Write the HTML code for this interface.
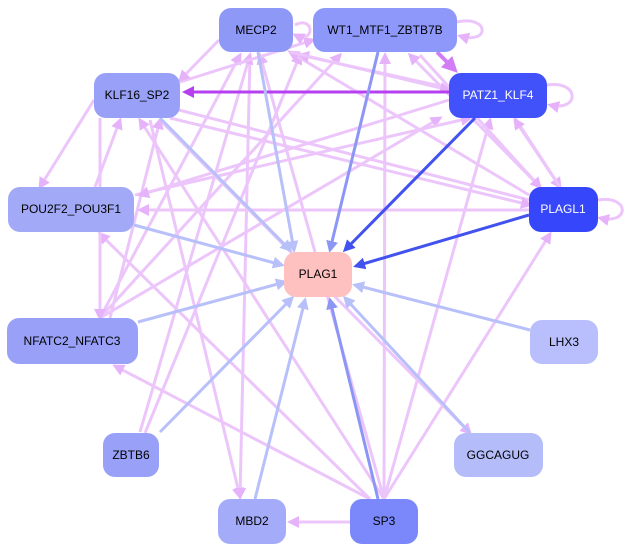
<!DOCTYPE html>
<html><head><style>
body{margin:0;background:#fff;width:630px;height:551px;overflow:hidden}
svg{display:block}
text{font-family:"Liberation Sans",sans-serif;font-size:12px;text-anchor:middle;dominant-baseline:central}
</style></head><body>
<svg width="630" height="551" viewBox="0 0 630 551">
<defs>
<marker id="ap" markerWidth="4" markerHeight="4" refX="3" refY="2" orient="auto" markerUnits="strokeWidth"><path d="M0,0L4,2L0,4z" fill="#e6b3fa"/></marker>
<marker id="ad" markerWidth="4" markerHeight="4" refX="3" refY="2" orient="auto" markerUnits="strokeWidth"><path d="M0,0L4,2L0,4z" fill="#d27cf5"/></marker>
<marker id="am" markerWidth="4" markerHeight="4" refX="3" refY="2" orient="auto" markerUnits="strokeWidth"><path d="M0,0L4,2L0,4z" fill="#b63ff0"/></marker>
<marker id="al" markerWidth="4" markerHeight="4" refX="3" refY="2" orient="auto" markerUnits="strokeWidth"><path d="M0,0L4,2L0,4z" fill="#b8c0fa"/></marker>
<marker id="ab" markerWidth="4" markerHeight="4" refX="3" refY="2" orient="auto" markerUnits="strokeWidth"><path d="M0,0L4,2L0,4z" fill="#8c96f5"/></marker>
<marker id="as" markerWidth="4" markerHeight="4" refX="3" refY="2" orient="auto" markerUnits="strokeWidth"><path d="M0,0L4,2L0,4z" fill="#4252ee"/></marker>
</defs>
<g fill="none" stroke-width="3" stroke="#ecc6fb" marker-end="url(#ap)">
<path d="M384,499L140,120"/>
<path d="M384,499L260,55"/>
<path d="M384,499L385,55"/>
<path d="M384,499L490,120"/>
<path d="M384,499L550,234"/>
<path d="M370,499L115,366"/>
<path d="M350,522L290,522"/>
<path d="M370,499L100,234"/>
<path d="M150,120L240,497"/>
<path d="M250,55L240,497"/>
<path d="M160,120L470,433"/>
<path d="M140,432L250,55"/>
<path d="M145,433L300,55"/>
<path d="M100,318L240,55"/>
<path d="M100,318L340,55"/>
<path d="M100,318L440,118"/>
<path d="M110,318L160,120"/>
<path d="M95,187L120,120"/>
<path d="M135,195L470,118"/>
<path d="M529,200L140,100"/>
<path d="M529,210L140,210"/>
<path d="M540,187L410,55"/>
<path d="M529,195L290,52"/>
<path d="M420,55L540,187"/>
<path d="M515,118L560,187"/>
<path d="M560,187L515,120"/>
<path d="M449,88L300,55"/>
<path d="M290,52L449,90"/>
<path d="M180,82L313,40"/>
<path d="M219,40L180,80"/>
<path d="M100,118L100,318"/>
<path d="M94,100L40,187"/>
<path d="M170,118L530,205"/>
<path d="M449,100L140,195"/>
<path d="M295,25C315,15 315,45 295,35"/>
<path d="M457,22C490,15 490,45 460,36"/>
<path d="M547,85C580,80 580,112 550,105"/>
<path d="M598,200C630,195 630,225 600,218"/>
</g>
<path d="M449,92L185,92" stroke="#b63ff0" stroke-width="3" marker-end="url(#am)"/>
<path d="M437,52L455,70" stroke="#d27cf5" stroke-width="4" marker-end="url(#ad)"/>
<g fill="none" stroke-width="3" stroke="#b8c0fa" marker-end="url(#al)">
<path d="M258,52L294,250"/>
<path d="M160,118L290,250"/>
<path d="M134,225L282,265"/>
<path d="M138,322L285,282"/>
<path d="M530,330L355,285"/>
<path d="M160,432L292,298"/>
<path d="M470,433L345,298"/>
<path d="M255,499L305,300"/>
</g>
<g fill="none" stroke-width="3" stroke="#8c96f5" marker-end="url(#ab)">
<path d="M378,52L330,250"/>
<path d="M378,499L330,300"/>
</g>
<g fill="none" stroke-width="3" stroke="#4252ee" marker-end="url(#as)">
<path d="M475,118L345,250"/>
<path d="M529,215L356,266"/>
</g>
<g>
<rect x="219" y="8" width="74" height="44" rx="12" fill="#8e98f7"/><text x="256" y="30">MECP2</text>
<rect x="313" y="8" width="144" height="44" rx="12" fill="#8e98fb"/><text x="385" y="30">WT1_MTF1_ZBTB7B</text>
<rect x="94" y="73" width="86" height="45" rx="12" fill="#98a0f8"/><text x="137" y="95">KLF16_SP2</text>
<rect x="449" y="73" width="98" height="45" rx="12" fill="#4252fb"/><text x="498" y="95" fill="#fff">PATZ1_KLF4</text>
<rect x="8" y="187" width="126" height="45" rx="12" fill="#a2aaf8"/><text x="71" y="209">POU2F2_POU3F1</text>
<rect x="529" y="187" width="69" height="45" rx="12" fill="#3646fb"/><text x="563" y="209" fill="#fff">PLAGL1</text>
<rect x="284" y="252" width="68" height="45" rx="12" fill="#ffc0c0"/><text x="318" y="274">PLAG1</text>
<rect x="7" y="318" width="131" height="46" rx="12" fill="#98a0f8"/><text x="72" y="341">NFATC2_NFATC3</text>
<rect x="530" y="320" width="68" height="44" rx="12" fill="#b8bffc"/><text x="564" y="342">LHX3</text>
<rect x="103" y="433" width="56" height="44" rx="12" fill="#98a0f8"/><text x="131" y="455">ZBTB6</text>
<rect x="454" y="433" width="89" height="44" rx="12" fill="#b4bcfa"/><text x="498" y="455">GGCAGUG</text>
<rect x="218" y="499" width="68" height="45" rx="12" fill="#a4acfa"/><text x="252" y="521">MBD2</text>
<rect x="350" y="499" width="68" height="45" rx="12" fill="#7a88fb"/><text x="384" y="521">SP3</text>
</g>
</svg>
</body></html>
